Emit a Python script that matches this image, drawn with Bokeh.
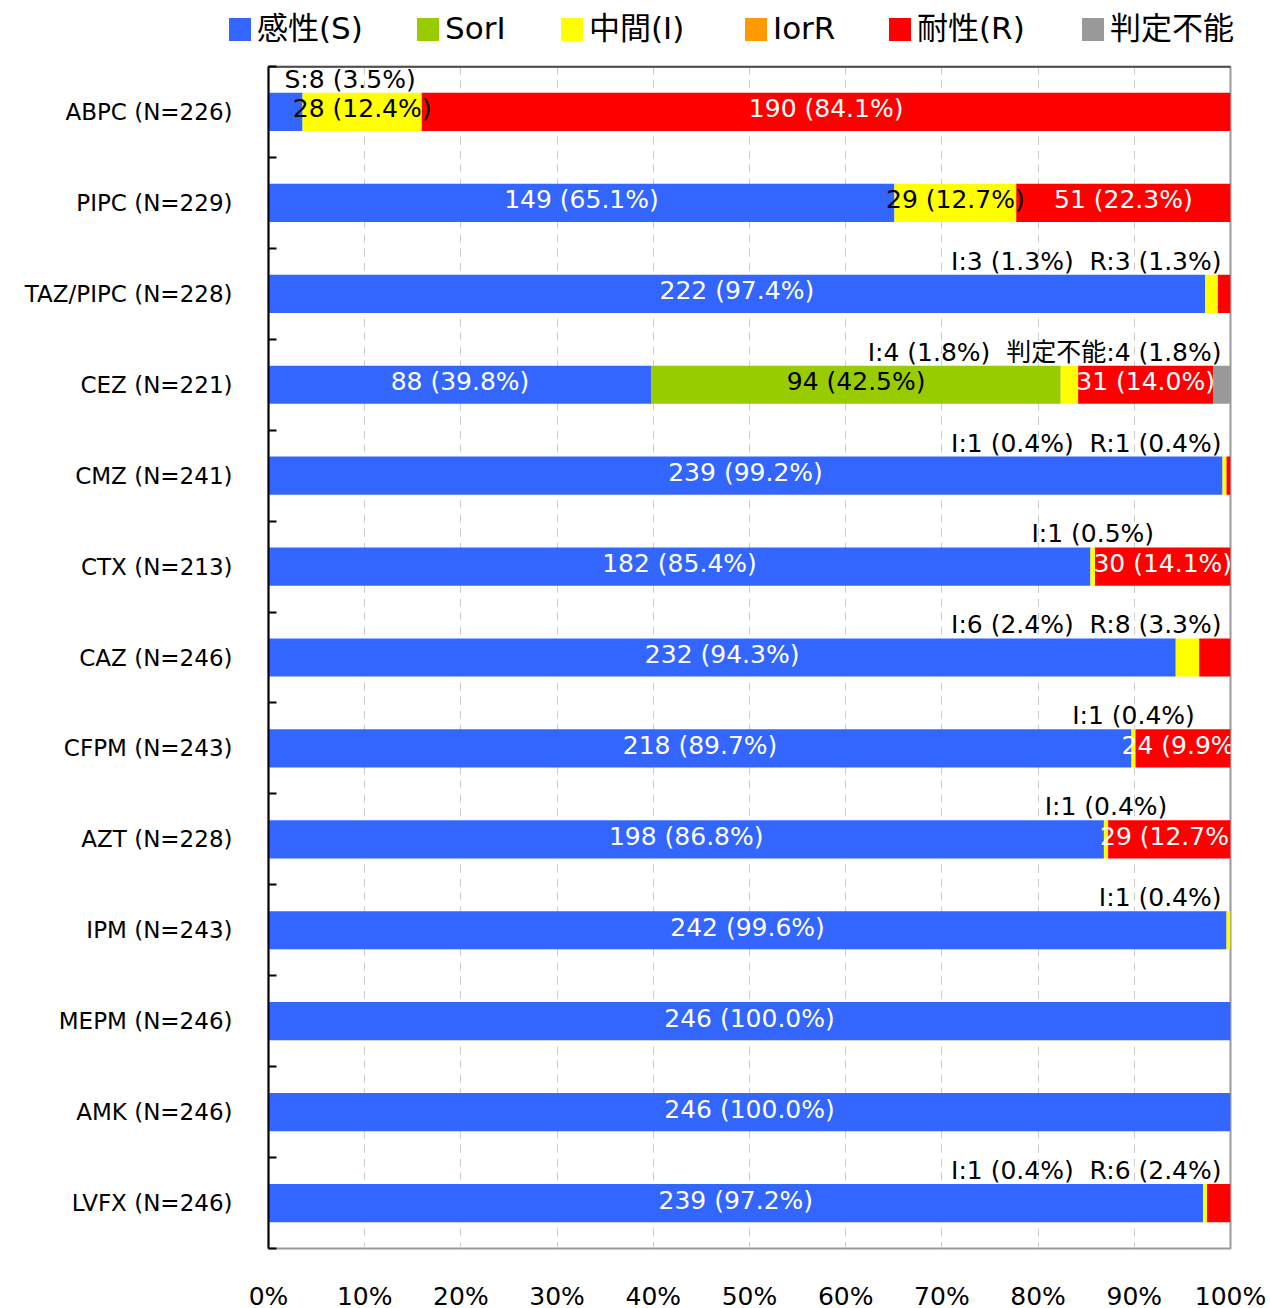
from bokeh.plotting import figure
from bokeh.layouts import column
from bokeh.models import (ColumnDataSource, Range1d, FixedTicker, Span, LinearAxis, Div)
from bokeh.core.properties import value
from bokeh.embed import file_html
from bokeh.resources import INLINE

categories = ["ABPC (N=226)", "PIPC (N=229)", "TAZ/PIPC (N=228)", "CEZ (N=221)", "CMZ (N=241)",
              "CTX (N=213)", "CAZ (N=246)", "CFPM (N=243)", "AZT (N=228)", "IPM (N=243)",
              "MEPM (N=246)", "AMK (N=246)", "LVFX (N=246)"]
totals = [226, 229, 228, 221, 241, 213, 246, 243, 228, 243, 246, 246, 246]
sus = [8, 149, 222, 88, 239, 182, 232, 218, 198, 242, 246, 246, 239]
sori = [0, 0, 0, 94, 0, 0, 0, 0, 0, 0, 0, 0, 0]
inter = [28, 29, 3, 4, 1, 1, 6, 1, 1, 1, 0, 0, 1]
iorr = [0, 0, 0, 0, 0, 0, 0, 0, 0, 0, 0, 0, 0]
res = [190, 51, 3, 31, 1, 30, 8, 24, 29, 0, 0, 0, 6]
nd = [0, 0, 0, 4, 0, 0, 0, 0, 0, 0, 0, 0, 0]

series_names = ["感性(S)", "SorI", "中間(I)", "IorR", "耐性(R)", "判定不能"]
short_names = ["S", "SorI", "I", "IorR", "R", "判定不能"]
colors = ["#3366FF", "#99CC00", "#FFFF00", "#FF9900", "#FF0000", "#999999"]
inside_text_colors = ["white", "black", "black", "black", "white", "black"]
x_ticks = [0, 10, 20, 30, 40, 50, 60, 70, 80, 90, 100]

FONT = "DejaVu Sans, Noto Sans CJK JP"
counts = [sus, sori, inter, iorr, res, nd]
keys = ["s", "sori", "i", "iorr", "r", "nd"]

ys = [i + 1 for i in range(len(categories))]
data = {"y": ys}
for k, c in zip(keys, counts):
    data[k] = [v / n * 100 for v, n in zip(c, totals)]
source = ColumnDataSource(data)

# ---------------- legend strip (HTML) ----------------
LEG_H = 64
legend_x = [229, 417, 561, 745, 889, 1082]
parts = []
for name, col, lx in zip(series_names, colors, legend_x):
    parts.append(f'<span style="position:absolute;left:{lx}px;top:18px;width:22px;height:23px;'
                 f'background:{col};"></span>')
    parts.append(f'<span style="position:absolute;left:{lx + 28}px;top:10px;line-height:36px;'
                 f'white-space:nowrap;color:#000;">{name}</span>')
legend_html = (f'<div style="position:relative;width:1270px;height:{LEG_H}px;'
               f"font-family:'DejaVu Sans','Noto Sans CJK JP',sans-serif;font-size:31px;\">"
               + "".join(parts) + "</div>")
leg = Div(text=legend_html, width=1270, height=LEG_H, styles={"margin": "0", "padding": "0"})

# ---------------- main chart ----------------
p = figure(frame_width=962, frame_height=1182, output_backend="svg", toolbar_location=None,
           x_range=Range1d(0, 100), y_range=Range1d(13.5, 0.5),
           min_border_left=268, min_border_right=40, min_border_top=2, min_border_bottom=10,
           x_axis_location=None, y_axis_location=None)
p.outline_line_color = "#999999"
p.outline_line_width = 2

p.hbar_stack(keys, y="y", height=0.42, color=colors, line_color=None, source=source)

in_x, in_y, in_t, in_c = [], [], [], []
out_rows = []
for row in range(len(categories)):
    left = 0.0
    smalls = []
    for si, c in enumerate(counts):
        v = c[row]
        pct = v / totals[row] * 100
        if v > 0:
            if pct >= 5:
                in_x.append(left + pct / 2)
                in_y.append(ys[row])
                in_t.append(f"{v} ({pct:.1f}%)")
                in_c.append(inside_text_colors[si])
            else:
                smalls.append((left, left + pct, f"{short_names[si]}:{v} ({pct:.1f}%)"))
        left += pct
    if smalls:
        txt = "\u00a0\u00a0".join(s[2] for s in smalls)
        center = (smalls[0][0] + smalls[-1][1]) / 2
        w = sum(24 if ord(ch) > 0x2E80 else 13.6 for ch in txt) / 962 * 100
        if center + w / 2 > 99.0:
            out_rows.append((100, ys[row], txt, "right", -9))
        elif center - w / 2 < 1.7:
            out_rows.append((0, ys[row], txt, "left", 16))
        else:
            out_rows.append((center, ys[row], txt, "center", 0))

p.text(x=in_x, y=in_y, text=in_t, text_color=in_c, text_font=value(FONT),
       text_font_size="25px", text_align="center", text_baseline="middle", y_offset=-3)
for x, y, t, al, xo in out_rows:
    p.text(x=[x], y=[y - 0.21], text=[t], text_color="black", text_font=value(FONT),
           text_font_size="25px", text_align=al, text_baseline="bottom", x_offset=xo, y_offset=1)

yaxis = LinearAxis(ticker=FixedTicker(ticks=ys, minor_ticks=[i + 0.5 for i in range(len(categories) + 1)]))
yaxis.major_label_overrides = {y: c for y, c in zip(ys, categories)}
yaxis.major_tick_in = 0
yaxis.major_tick_out = 0
yaxis.minor_tick_in = 8
yaxis.minor_tick_out = 0
yaxis.minor_tick_line_color = "black"
yaxis.minor_tick_line_width = 2
yaxis.axis_line_color = "black"
yaxis.axis_line_width = 2
yaxis.major_label_standoff = 36
yaxis.major_label_text_font = FONT
yaxis.major_label_text_font_size = "23px"
yaxis.major_label_text_color = "black"
p.add_layout(yaxis, "left")

xaxis = LinearAxis(ticker=FixedTicker(ticks=x_ticks))
xaxis.major_label_overrides = {t: f"{t}%" for t in x_ticks}
xaxis.axis_line_color = None
xaxis.major_tick_line_color = None
xaxis.minor_tick_line_color = None
xaxis.major_label_standoff = 27
xaxis.major_label_text_font = FONT
xaxis.major_label_text_font_size = "25px"
xaxis.major_label_text_color = "black"
p.add_layout(xaxis, "below")

p.xgrid.ticker = FixedTicker(ticks=x_ticks)
p.xgrid.grid_line_color = "#cccccc"
p.xgrid.grid_line_dash = "8 6"
p.xgrid.grid_line_width = 1
p.ygrid.grid_line_color = None

p.add_layout(Span(location=0.5, dimension="width", line_color="black", line_width=2))

layout = column(leg, p, spacing=0)
open("out.html", "w").write(file_html(layout, INLINE))
